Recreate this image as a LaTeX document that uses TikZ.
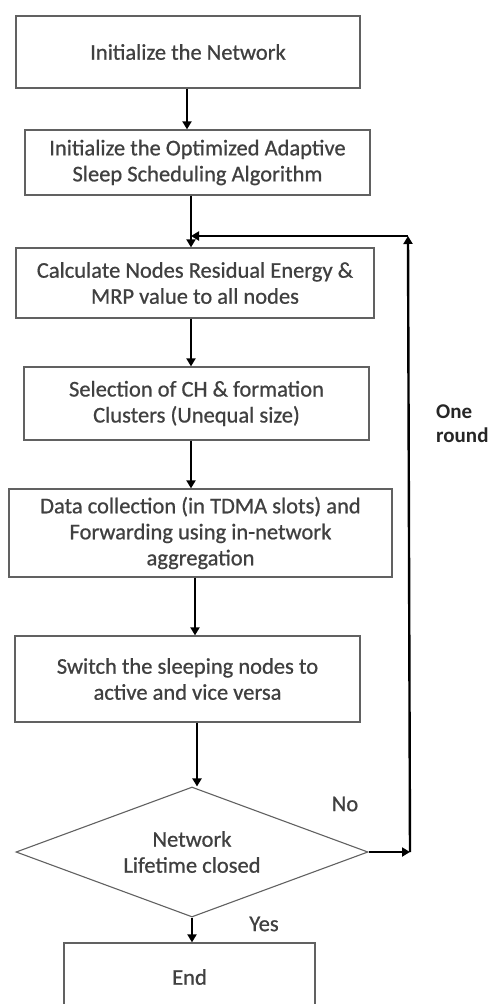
\documentclass[tikz,border=0pt]{standalone}
\usepackage{fontspec}
\setmainfont{Carlito}
\newfontfamily\medfont{Carlito}[RawFeature={embolden=0.7}]
\usetikzlibrary{shapes.geometric,arrows.meta}
\begin{document}
\begin{tikzpicture}[x=1pt,y=-1pt,
  box/.style={draw=black!62,line width=1.3pt,align=center,inner sep=0pt,text=black!75,
    font=\medfont\fontsize{22.5}{26}\selectfont},
  dia/.style={diamond,draw=black!62,line width=1.1pt,align=center,inner sep=0pt,aspect=2.7,
    text=black!75,font=\medfont\fontsize{22.5}{26}\selectfont},
  arr/.style={draw=black,line width=2.4pt,-{Triangle[length=8pt,width=9pt]}},
  lbl/.style={text=black!75,font=\medfont\fontsize{22.5}{26}\selectfont,inner sep=0pt},
  blbl/.style={text=black!85,font=\bfseries\fontsize{21}{23}\selectfont,inner sep=0pt,anchor=west}]
\clip (0,0) rectangle (493,1004);
\fill[white] (0,0) rectangle (493,1004);
\node[box,minimum width=344pt,minimum height=72pt] (b1) at (188,52) {Initialize the Network};
\node[box,minimum width=345pt,minimum height=65pt] (b2) at (197.5,162.5) {Initialize the Optimized Adaptive\\Sleep Scheduling Algorithm};
\node[box,minimum width=358pt,minimum height=70pt] (b3) at (195,283) {Calculate Nodes Residual Energy \&\\MRP value to all nodes};
\node[box,minimum width=345pt,minimum height=73pt] (b4) at (196.5,403.5) {Selection of CH \& formation\\Clusters (Unequal size)};
\node[box,minimum width=383pt,minimum height=88pt] (b5) at (200.5,533) {Data collection (in TDMA slots) and\\Forwarding using in-network\\aggregation};
\node[box,minimum width=345pt,minimum height=86pt] (b6) at (187.5,679) {Switch the sleeping nodes to\\active and vice versa};
\node[dia,minimum width=352pt,minimum height=130pt] (d) at (192,852) {Network\\Lifetime closed};
\node[box,minimum width=251pt,minimum height=68pt] (e) at (189.5,977) {End};
\coordinate (x187) at (187,0);
\coordinate (x190) at (191,0);
\coordinate (x195) at (195,0);
\coordinate (x197) at (197,0);
\coordinate (j) at (191,236);
\coordinate (c1) at (410,852);
\coordinate (c2) at (408,236);
\draw[arr] (b1.south -| x187) -- (b2.north -| x187);
\draw[line width=2.4pt] (b2.south -| x190) -- (j);
\draw[arr] (j) -- (b3.north -| x190);
\draw[arr] (b3.south -| x190) -- (b4.north -| x190);
\draw[arr] (b4.south -| x190) -- (b5.north -| x190);
\draw[arr] (b5.south -| x195) -- (b6.north -| x195);
\draw[arr] (b6.south -| x197) -- (d.north -| x197);
\draw[arr] (d.south) -- (e.north -| d.south);
\draw[arr] (d.east) -- (c1);
\draw[arr] (c1) -- (c2);
\draw[arr] (c2) -- (j);
\node[lbl] (no) at (345,804) {No};
\node[lbl] (yes) at (264,924) {Yes};
\node[blbl] (one) at (436,412) {One};
\node[blbl] (round) at (436,435) {round};
\end{tikzpicture}
\end{document}
